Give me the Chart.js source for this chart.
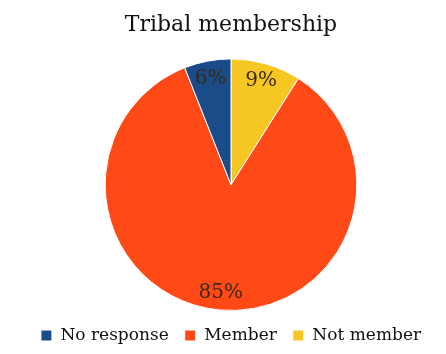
<!DOCTYPE html>
<html>
<head>
<meta charset="utf-8">
<script src="https://cdn.jsdelivr.net/npm/chart.js@4/dist/chart.umd.min.js"></script>
<style>
  html, body { margin: 0; padding: 0; background: #fff; }
  #wrap { width: 446px; height: 354px; }
</style>
</head>
<body>
<div id="wrap"><canvas id="pie"></canvas></div>
<script>
// data (drawing order clockwise from top)
const categories = ['Not member', 'Member', 'No response'];
const shares = [9, 85, 6];
const sliceColors = ['#F6C723', '#FF4A17', '#1A4C8A'];

const serifFamily = 'DejaVu Serif, Liberation Serif, serif';
Chart.defaults.font.family = serifFamily;

// draw percent labels on slices
const sliceLabels = {
    id: 'sliceLabels',
    afterDatasetsDraw(chart) {
        const ctx = chart.ctx;
        const meta = chart.getDatasetMeta(0);
        ctx.save();
        ctx.font = '20px ' + serifFamily;
        ctx.fillStyle = '#3b2a1c';
        ctx.textAlign = 'center';
        ctx.textBaseline = 'middle';
        meta.data.forEach((arc, i) => {
            const mid = (arc.startAngle + arc.endAngle) / 2;
            const r = arc.outerRadius * 0.86;
            const x = arc.x + Math.cos(mid) * r;
            const y = arc.y + Math.sin(mid) * r;
            ctx.fillText(shares[i] + '%', x, y);
        });
        ctx.restore();
    }
};

new Chart(document.getElementById('pie'), {
    type: 'pie',
    data: {
        labels: categories,
        datasets: [{
            data: shares,
            backgroundColor: sliceColors,
            borderColor: '#ffffff',
            borderWidth: 1
        }]
    },
    options: {
        responsive: true,
        maintainAspectRatio: false,
        animation: false,
        layout: { padding: { left: 16, top: 0, bottom: 0 } },
        plugins: {
            title: {
                display: true,
                text: 'Tribal membership',
                color: '#111',
                font: { family: serifFamily, size: 22, weight: 'normal' },
                padding: { top: 12, bottom: 20 }
            },
            legend: {
                position: 'bottom',
                labels: {
                    color: '#111',
                    font: { family: serifFamily, size: 17 },
                    boxWidth: 11,
                    boxHeight: 11,
                    padding: 16,
                    sort: (a, b) => b.index - a.index
                }
            },
            tooltip: { enabled: false }
        }
    },
    plugins: [sliceLabels]
});
</script>
</body>
</html>
